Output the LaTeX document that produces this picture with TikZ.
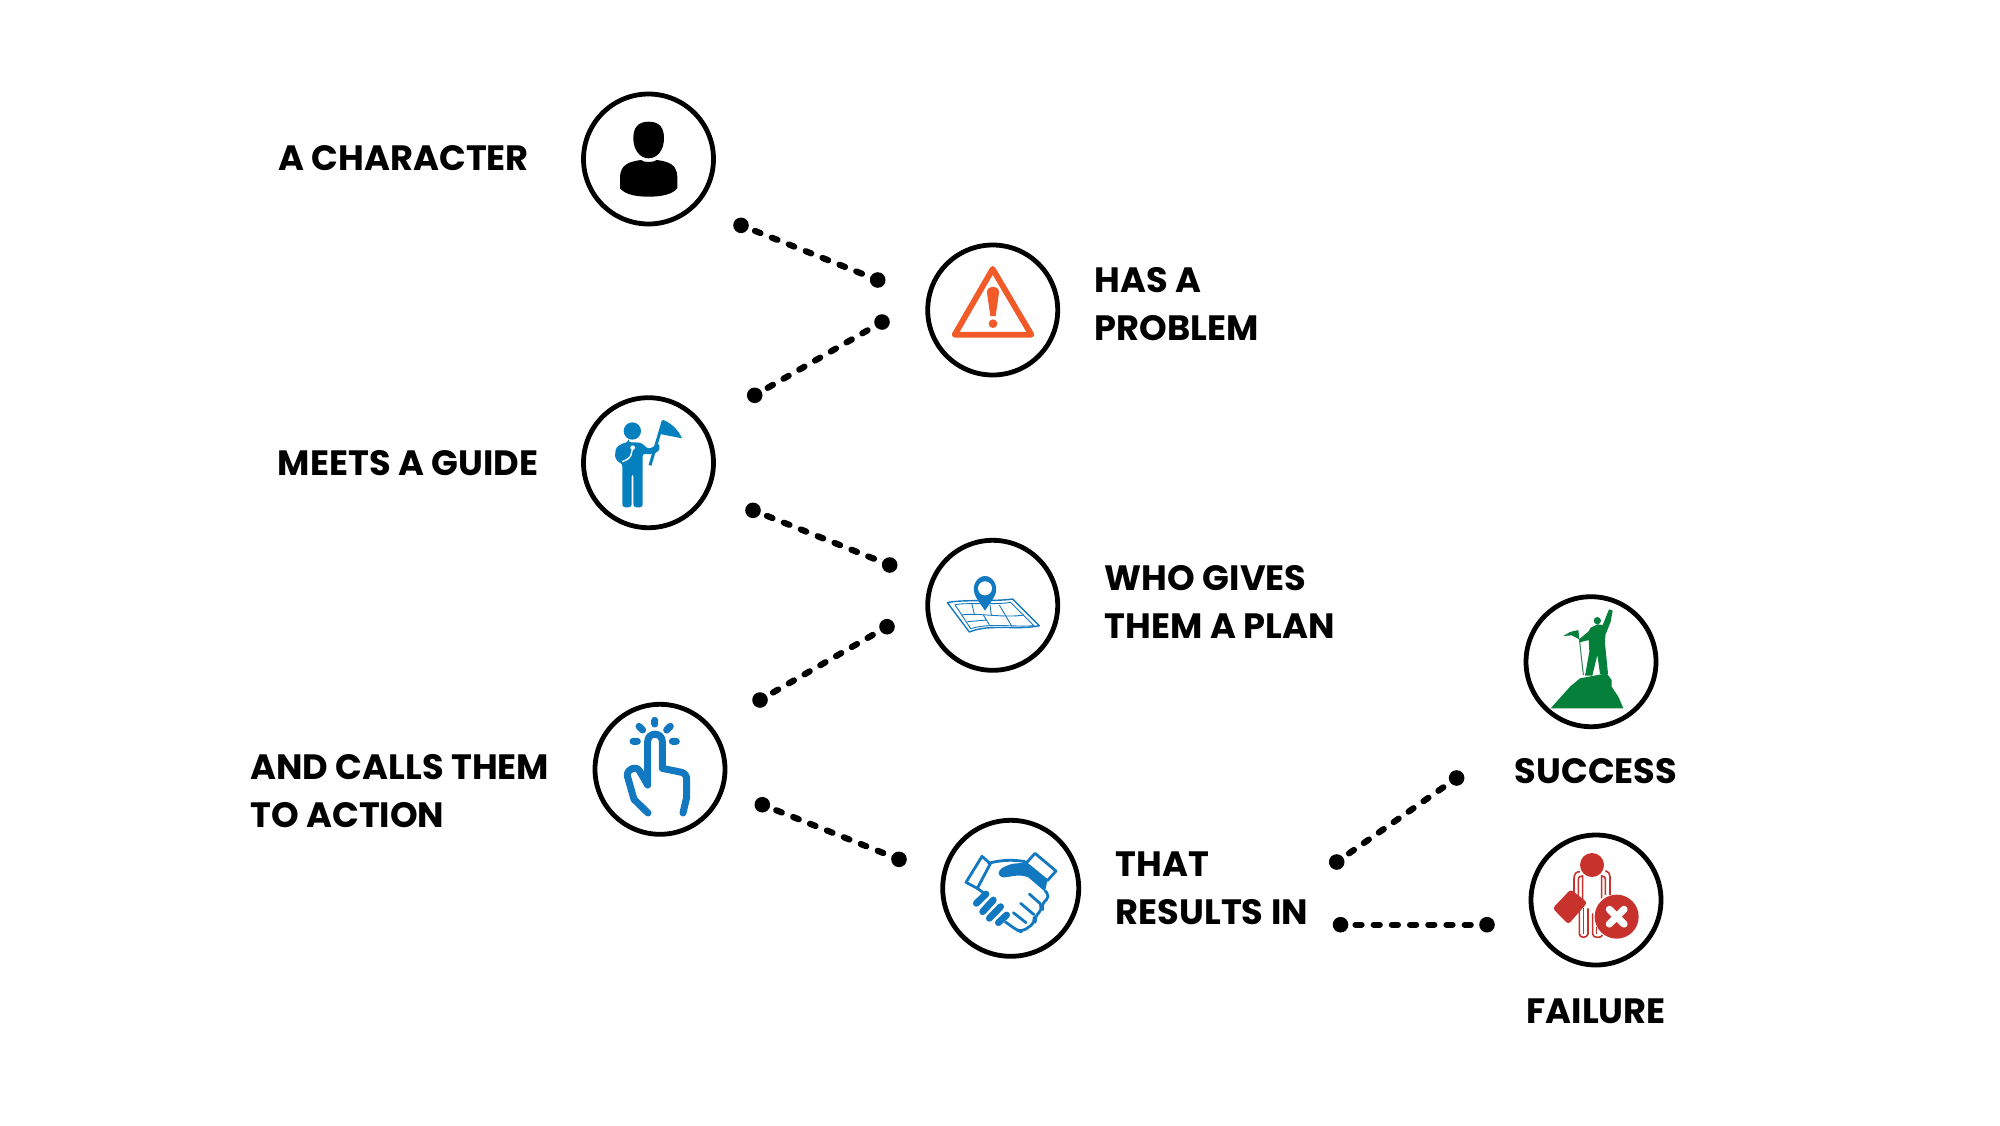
\documentclass[tikz,border=0pt]{standalone}
\usepackage{fontspec}
\setmainfont{Poppins}[BoldFont={* Bold}]
\definecolor{warnor}{HTML}{F15A29}
\definecolor{guideb}{HTML}{0580BF}
\definecolor{iconb}{HTML}{1278BF}
\definecolor{okgreen}{HTML}{05803A}
\definecolor{badred}{HTML}{C8322D}
\tikzset{
  ring/.style={circle,draw=black,line width=2.4pt,minimum size=65pt,inner sep=0pt},
  bigring/.style={ring,minimum size=68pt},
  dotnode/.style={circle,fill=black,minimum size=7.8pt,inner sep=0pt},
  link/.style={line width=3.1pt,line cap=round,dash pattern=on 3pt off 6.1pt,dash phase=1.6pt},
  lab/.style={font=\bfseries\fontsize{17.6pt}{24pt}\selectfont,text=black,inner sep=0pt,align=left},
  zooma/.style={shift={(560,80)},scale=0.33333},
  zoomb/.style={shift={(570,520)},scale=0.33333},
  zoomc/.style={shift={(1500,580)},scale=0.33333},
}
\begin{document}
\begin{tikzpicture}[x=0.5pt,y=-0.5pt]
\useasboundingbox[fill=white] (0,0) rectangle (2000,1125);
% rings
\node[ring] (character) at (648.5,159) {};
\node[ring] (problem) at (992.7,310) {};
\node[ring] (guide) at (648.5,462.7) {};
\node[ring] (plan) at (992.7,605.3) {};
\node[ring] (action) at (660,769.3) {};
\node[bigring] (deal) at (1010.7,888.3) {};
\node[ring] (success) at (1591,661.7) {};
\node[ring] (failure) at (1596,900) {};
% labels
\node[lab,anchor=base west] (tchar) at (278,170) {A CHARACTER};
\node[lab,anchor=base west] (tprob) at (1094.5,340) {HAS A\\PROBLEM};
\node[lab,anchor=base west] (tguide) at (277.5,475) {MEETS A GUIDE};
\node[lab,anchor=base west] (tplan) at (1104.5,638.5) {WHO GIVES\\THEM A PLAN};
\node[lab,anchor=base west] (tact) at (250,827) {AND CALLS THEM\\TO ACTION};
\node[lab,anchor=base west] (tres) at (1115.5,924) {THAT\\RESULTS IN};
\node[lab,anchor=base] (tsucc) at (1596,783.5) {SUCCESS};
\node[lab,anchor=base] (tfail) at (1596,1023.5) {FAILURE};
% connector end dots
\node[dotnode] (a1) at (741,225.3) {};
\node[dotnode] (a2) at (877.7,280) {};
\node[dotnode] (b1) at (754.7,395.3) {};
\node[dotnode] (b2) at (882,322) {};
\node[dotnode] (c1) at (753,510.3) {};
\node[dotnode] (c2) at (889.7,565) {};
\node[dotnode] (d1) at (760,700) {};
\node[dotnode] (d2) at (887,626.7) {};
\node[dotnode] (e1) at (762.3,804.7) {};
\node[dotnode] (e2) at (899,859.3) {};
\node[dotnode] (f1) at (1336.7,862) {};
\node[dotnode] (f2) at (1456.6,778) {};
\node[dotnode] (g1) at (1340.5,924.7) {};
\node[dotnode] (g2) at (1487,924.7) {};
\draw[link] (a1.center) -- (a2.center);
\draw[link] (b1.center) -- (b2.center);
\draw[link] (c1.center) -- (c2.center);
\draw[link] (d1.center) -- (d2.center);
\draw[link] (e1.center) -- (e2.center);
\draw[link] (f1.center) -- (f2.center);
\draw[link] (g1.center) -- (g2.center);
% person
\begin{scope}[zooma]
\fill[black] (266,125) .. controls (232,125) and (220,145) .. (220,175) .. controls (220,210) and (240,235) .. (266,235) .. controls (292,235) and (312,210) .. (312,175) .. controls (312,145) and (300,125) .. (266,125) -- cycle;
\fill[black] (243,240) .. controls (250,248) and (282,248) .. (290,240) .. controls (330,245) and (350,255) .. (352,290) -- (352,325) .. controls (335,345) and (300,350) .. (266,350) .. controls (232,350) and (197,345) .. (180,325) -- (180,290) .. controls (182,255) and (205,245) .. (243,240) -- cycle;
% warning
\draw[warnor,line width=2.9pt,line join=round] (1298,567) -- (1414,764) -- (1184,764) -- cycle;
\fill[warnor] (1281,638) .. controls (1279,615) and (1319,615) .. (1317,638) -- (1307,708) -- (1291,708) -- cycle;
\fill[warnor] (1299,731) circle (13);
% guide
\fill[guideb] (217,1053) circle (26);
\fill[guideb,rounded corners=1.5pt] (205,1087) -- (232,1087) .. controls (250,1090) and (258,1105) .. (275,1105) -- (292,1090) -- (301,1098) -- (296,1115) -- (270,1124) -- (248,1120) -- (248,1282) -- (220,1282) -- (220,1180) -- (215,1180) -- (215,1282) -- (187,1282) -- (187,1150) .. controls (170,1145) and (165,1130) .. (166,1118) .. controls (168,1100) and (185,1090) .. (205,1087) -- cycle;
\draw[white,line width=0.7pt] (218,1105) -- (212,1128) .. controls (205,1138) and (195,1142) .. (187,1145);
\fill[white] (218,1103) circle (7);
\draw[white,line width=0.6pt] (285,1105) -- (280,1125);
\draw[guideb,line width=1.5pt] (270,1156) -- (310,1022);
\fill[guideb] (310,1020) .. controls (335,1030) and (355,1050) .. (366,1075) -- (300,1062) -- cycle;
\end{scope}
\begin{scope}[zoomb]
% map
\draw[iconb,line width=0.7pt,line join=round] (1132,248) .. controls (1170,238) and (1280,245) .. (1328,237) -- (1408,317) .. controls (1340,332) and (1260,310) .. (1198,336) -- cycle;
\draw[iconb,line width=0.45pt,line join=round] (1155,254) .. controls (1190,247) and (1280,255) .. (1322,247) -- (1392,317) .. controls (1330,322) and (1260,308) .. (1202,326) -- cycle;
\draw[iconb,line width=0.45pt] (1175,285) .. controls (1220,277) and (1300,295) .. (1362,285);
\draw[iconb,line width=0.45pt] (1205,250) -- (1213,282) (1260,255) -- (1264,285) (1288,255) -- (1325,318) (1240,285) -- (1258,314) (1192,305) -- (1250,300);
\fill[iconb] (1245,272) -- (1220,235) .. controls (1198,200) and (1222,168) .. (1245,168) .. controls (1268,168) and (1292,200) .. (1270,235) -- cycle;
\fill[white] (1245,205) circle (21);
% hand
\draw[iconb,line width=3.5pt,line cap=round,line join=round] (234,879) -- (192,838) -- (172,768) .. controls (170,745) and (200,735) .. (210,755) -- (233,795) -- (233,665) .. controls (233,635) and (277,635) .. (277,665) -- (277,745) -- (335,757) .. controls (345,760) and (350,768) .. (350,778) -- (350,832) -- (339,879);
\draw[iconb,line width=3.5pt,line cap=round] (254,601) -- (254,612) (207,619) -- (218,630) (301,619) -- (290,630) (189,664) -- (202,664) (307,664) -- (319,664);
% handshake
\draw[iconb,line width=1.4pt,line join=round] (1236,1009) -- (1261,1031) -- (1222,1105) -- (1188,1087) -- cycle;
\draw[iconb,line width=1.4pt,line join=round] (1395,1000) -- (1458,1053) -- (1432,1082) -- (1368,1030) -- cycle;
\fill[iconb] (1368,1030) -- (1432,1082) -- (1425,1115) -- (1375,1072) .. controls (1345,1060) and (1320,1072) .. (1300,1072) .. controls (1280,1068) and (1282,1052) .. (1300,1042) .. controls (1320,1030) and (1345,1028) .. (1368,1030) -- cycle;
\draw[iconb,line width=1.4pt,line cap=round] (1256,1030) .. controls (1290,1020) and (1330,1018) .. (1365,1025);
\draw[iconb,line width=1.4pt,line join=round,rounded corners=2.5pt] (1425,1112) -- (1440,1130) -- (1412,1155) -- (1418,1168) -- (1392,1192) -- (1396,1207) -- (1355,1236) -- (1340,1230) -- (1305,1205);
\draw[iconb,line width=1.4pt,line cap=round] (1378,1122) -- (1412,1152) (1352,1150) -- (1392,1184) (1330,1178) -- (1368,1208) (1222,1105) -- (1240,1118);
\draw[iconb,line width=3.4pt,line cap=round] (1248,1122) -- (1219,1150) (1270,1140) -- (1238,1175) (1292,1160) -- (1258,1195) (1310,1185) -- (1285,1208);
\end{scope}
\begin{scope}[zoomc]
% success
\fill[okgreen] (152,385) -- (210,320) -- (240,295) -- (320,280) -- (335,300) -- (335,320) -- (355,350) -- (370,385) -- cycle;
\fill[okgreen] (292,122) circle (11);
\fill[okgreen] (255,287) -- (268,215) -- (266,180) -- (240,187) -- (237,178) -- (265,155) -- (272,143) -- (292,133) -- (308,135) -- (327,88) -- (338,92) -- (332,125) -- (316,165) -- (315,190) -- (324,282) -- (300,282) -- (292,225) -- (277,287) -- cycle;
\draw[okgreen!60!gray,line width=0.5pt] (238,176) -- (250,285);
\fill[okgreen] (235,150) -- (238,178) -- (215,166) -- (190,168) -- (210,156) -- cycle;
% failure
\fill[badred] (276,855) circle (36);
\draw[badred,line width=0.8pt,line join=round] (232,960) -- (222,950) -- (222,895) .. controls (222,880) and (230,875) .. (240,875);
\draw[badred,line width=0.8pt] (235,960) -- (235,900) .. controls (235,890) and (240,888) .. (248,888) -- (248,965);
\draw[badred,line width=0.8pt] (330,945) -- (330,890) .. controls (330,880) and (325,875) .. (316,872);
\draw[badred,line width=0.8pt] (316,945) -- (316,900) .. controls (316,890) and (310,888) .. (305,888) -- (305,955);
\draw[badred,line width=0.8pt,line join=round] (238,985) -- (238,1062) .. controls (238,1075) and (262,1075) .. (264,1062) -- (264,985);
\draw[badred,line width=0.8pt] (250,985) -- (250,1062);
\draw[badred,line width=0.8pt] (278,1000) -- (278,1062) .. controls (278,1075) and (305,1075) .. (307,1065);
\draw[badred,line width=0.8pt] (290,1040) -- (290,1062);
\fill[badred,rounded corners=1.5pt] (212,928) -- (262,968) -- (205,1033) -- (158,985) -- cycle;
\fill[badred] (350,1010) circle (66);
\draw[white,line width=3.6pt,line cap=round] (328,988) -- (372,1032) (372,988) -- (328,1032);
\end{scope}
\end{tikzpicture}
\end{document}
